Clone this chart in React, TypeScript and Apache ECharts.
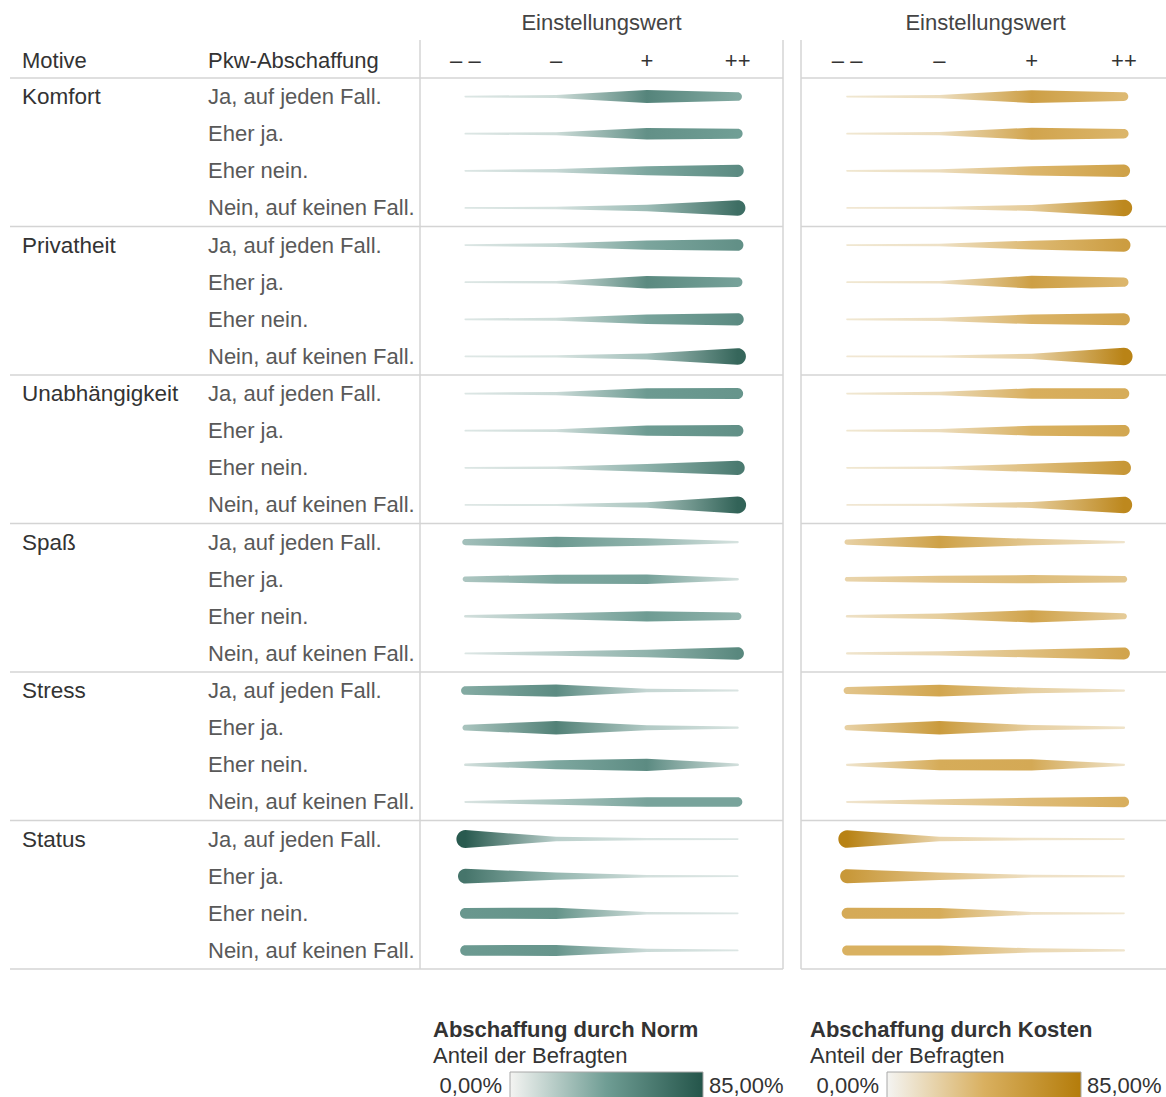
import React, { useEffect, useRef } from 'react';
import * as echarts from 'echarts';

// Categories
const motives = ['Komfort', 'Privatheit', 'Unabhängigkeit', 'Spaß', 'Stress', 'Status'];
const answers = ['Ja, auf jeden Fall.', 'Eher ja.', 'Eher nein.', 'Nein, auf keinen Fall.'];
const attitudeLabels = ['– –', '–', '+', '++'];

// Anteil der Befragten (%) je Einstellungswert (– –, –, +, ++), je Antwort auf die Pkw-Abschaffung
// Abschaffung durch Norm
const normKomfort = [[1, 7, 57, 35], [1, 7, 50, 42], [1, 9, 37, 53], [1, 4, 25, 70]];
const normPrivatheit = [[1, 11, 38, 50], [1, 5, 54, 40], [1, 7, 39, 53], [0.5, 3, 22, 75]];
const normUnabhaengigkeit = [[1, 8, 44, 47], [1, 6, 43, 50], [1, 5, 31, 63], [0.5, 2.5, 20, 77]];
const normSpass = [[23, 45, 29, 3], [19, 37, 40, 4], [5, 22, 43, 30], [1, 14, 30, 55]];
const normStress = [[35, 53, 10, 2], [21, 59, 17, 3], [5, 37, 53, 5], [2, 20, 39, 39]];
const normStatus = [[82, 14, 3, 1], [66, 28, 5, 1], [46, 48, 5, 1], [44, 47, 8, 1]];

// Abschaffung durch Kosten
const kostenKomfort = [[1, 8, 56, 36], [1, 8, 52, 39], [1, 8, 38, 54], [0.5, 3, 22, 75]];
const kostenPrivatheit = [[1, 5, 36, 58], [1, 5, 56, 38], [1, 8, 40, 52], [0.5, 2.5, 18, 79]];
const kostenUnabhaengigkeit = [[1, 10, 44, 46], [1, 8, 42, 50], [1, 5, 32, 63], [0.5, 3, 22, 75]];
const kostenSpass = [[18, 55, 24, 3], [15, 27, 33, 25], [5, 20, 53, 22], [3, 13, 32, 52]];
const kostenStress = [[27, 51, 19, 3], [18, 60, 18, 4], [3, 46, 48, 3], [2, 20, 34, 44]];
const kostenStatus = [[80, 15, 4, 1], [62, 30, 6, 2], [47, 46, 6, 1], [42, 42, 13, 3]];

const normGroups = [normKomfort, normPrivatheit, normUnabhaengigkeit, normSpass, normStress, normStatus];
const kostenGroups = [kostenKomfort, kostenPrivatheit, kostenUnabhaengigkeit, kostenSpass, kostenStress, kostenStatus];

// Colour scale range (%)
const SCALE_MAX = 85;
const normColors = ['#dfe8e6', '#6f9d94', '#24554a'];
const kostenColors = ['#f1e8d4', '#d9b060', '#b47c0a'];

// Stroke width mapping
const MIN_W = 1.6;
const W_PER_PCT = 0.2;

const FONT = '"Liberation Sans", Arial, Helvetica, sans-serif';
const FS = 22;

// Layout
const TOP = 78;
const BOTTOM = 969;
const NORM_LEFT = 420;
const NORM_RIGHT = 783;
const KOSTEN_LEFT = 801;
const KOSTEN_RIGHT = 1170;
const LINE_COLOR = '#d4d4d4';

const rowKeys: string[] = [];
motives.forEach((m) => answers.forEach((a) => rowKeys.push(`${m} | ${a}`)));

const toRows = (groups: number[][][]) => {
  const out: number[][] = [];
  groups.forEach((g) => g.forEach((vals) => out.push([out.length, ...vals])));
  return out;
};

const hexToRgb = (h: string) => {
  const n = parseInt(h.slice(1), 16);
  return [(n >> 16) & 255, (n >> 8) & 255, n & 255];
};

const colorAt = (stops: string[], v: number) => {
  const t = Math.max(0, Math.min(1, v / SCALE_MAX)) * (stops.length - 1);
  const i = Math.min(stops.length - 2, Math.floor(t));
  const f = t - i;
  const a = hexToRgb(stops[i]);
  const b = hexToRgb(stops[i + 1]);
  const c = a.map((x, k) => Math.round(x + (b[k] - x) * f));
  return `rgb(${c[0]},${c[1]},${c[2]})`;
};

const pct = (v: number) => `${v.toFixed(2).replace('.', ',')}%`;

const makeRenderItem = (colors: string[]) => (params: any, api: any) => {
  const row = api.value(0);
  const vals = [api.value(1), api.value(2), api.value(3), api.value(4)];
  const centers = vals.map((_, i) => api.coord([i, row]));
  const half = vals.map((v) => (MIN_W + v * W_PER_PCT) / 2);
  const y = centers[0][1];
  const pts: number[][] = [];
  const steps = 14;
  for (let i = 0; i < 4; i++) pts.push([centers[i][0], y - half[i]]);
  for (let s = 1; s < steps; s++) {
    const a = -Math.PI / 2 + (Math.PI * s) / steps;
    pts.push([centers[3][0] + half[3] * Math.cos(a), y + half[3] * Math.sin(a)]);
  }
  for (let i = 3; i >= 0; i--) pts.push([centers[i][0], y + half[i]]);
  for (let s = 1; s < steps; s++) {
    const a = Math.PI / 2 + (Math.PI * s) / steps;
    pts.push([centers[0][0] + half[0] * Math.cos(a), y + half[0] * Math.sin(a)]);
  }
  const xmin = centers[0][0] - half[0];
  const xmax = centers[3][0] + half[3];
  const stops = vals.map((v, i) => ({
    offset: (centers[i][0] - xmin) / (xmax - xmin),
    color: colorAt(colors, v),
  }));
  return {
    type: 'polygon',
    shape: { points: pts },
    style: { fill: new echarts.graphic.LinearGradient(0, 0, 1, 0, stops) },
  };
};

const text = (t: string, x: number, y: number, opts: any = {}) => ({
  type: 'text',
  x,
  y,
  silent: true,
  style: {
    text: t,
    fontSize: opts.fontSize ?? FS,
    fontFamily: FONT,
    fontWeight: opts.fontWeight ?? 'normal',
    fill: opts.fill ?? '#333',
    align: opts.align ?? 'left',
    verticalAlign: 'middle',
    textAlign: opts.align ?? 'left',
    textVerticalAlign: 'middle',
  },
});

const hLine = (x1: number, x2: number, y: number) => ({
  type: 'line',
  silent: true,
  shape: { x1, y1: y, x2, y2: y },
  style: { stroke: LINE_COLOR, lineWidth: 1.5 },
});

const vLine = (x: number, y1: number, y2: number) => ({
  type: 'line',
  silent: true,
  shape: { x1: x, y1, x2: x, y2 },
  style: { stroke: LINE_COLOR, lineWidth: 1.5 },
});

const legendBlock = (title: string, x: number, barX: number, barW: number, colors: string[]) => [
  text(title, x, 1029, { fontWeight: 'bold', fill: '#333' }),
  text('Anteil der Befragten', x, 1055, { fill: '#333' }),
  text(pct(0), barX - 8, 1085, { align: 'right', fill: '#333' }),
  {
    type: 'rect',
    silent: true,
    shape: { x: barX, y: 1072, width: barW, height: 27 },
    style: {
      fill: new echarts.graphic.LinearGradient(0, 0, 1, 0, [
        { offset: 0, color: '#f4f4f2' },
        { offset: 0.5, color: colors[1] },
        { offset: 1, color: colors[2] },
      ]),
      stroke: '#a8a8a8',
      lineWidth: 1,
    },
  },
  text(pct(SCALE_MAX), barX + barW + 6, 1085, { fill: '#333' }),
];

const xAxisFor = (gridIndex: number) => ({
  type: 'category',
  gridIndex,
  data: attitudeLabels,
  position: 'top',
  boundaryGap: true,
  axisLine: { show: false },
  axisTick: { show: false },
  splitLine: { show: false },
  axisLabel: {
    margin: 18,
    verticalAlign: 'middle',
    fontSize: FS,
    color: '#333',
    fontFamily: FONT,
  },
  name: 'Einstellungswert',
  nameLocation: 'middle',
  nameGap: 56,
  nameTextStyle: { fontSize: FS, color: '#444', fontFamily: FONT, verticalAlign: 'middle' },
});

const yAxisBase = (gridIndex: number) => ({
  type: 'category',
  gridIndex,
  position: 'left',
  offset: 0,
  data: rowKeys,
  inverse: true,
  axisLine: { show: false },
  axisTick: { show: false },
  splitLine: { show: false },
});

export default function App() {
  const ref = useRef<HTMLDivElement>(null);

  useEffect(() => {
    if (!ref.current) return;
    const chart = echarts.init(ref.current, undefined, { renderer: 'svg' });

    const groupLines: any[] = [];
    const rowH = (BOTTOM - TOP) / rowKeys.length;
    for (let k = 0; k <= motives.length; k++) {
      const y = TOP + k * answers.length * rowH;
      groupLines.push(hLine(10, NORM_RIGHT, y));
      groupLines.push(hLine(KOSTEN_LEFT, 1166, y));
    }

    chart.setOption({
      animation: false,
      backgroundColor: '#ffffff',
      textStyle: { fontFamily: FONT },
      grid: [
        {
          left: NORM_LEFT,
          top: TOP,
          width: NORM_RIGHT - NORM_LEFT,
          height: BOTTOM - TOP,
          outerBoundsMode: 'none',
          containLabel: false,
        },
        {
          left: KOSTEN_LEFT,
          top: TOP,
          width: KOSTEN_RIGHT - KOSTEN_LEFT,
          height: BOTTOM - TOP,
          outerBoundsMode: 'none',
          containLabel: false,
        },
      ],
      xAxis: [xAxisFor(0), xAxisFor(1)],
      yAxis: [
        {
          ...yAxisBase(0),
          axisLabel: {
            interval: 0,
            align: 'left',
            margin: NORM_LEFT - 208,
            fontSize: FS,
            color: '#595959',
            fontFamily: FONT,
            formatter: (_: string, idx: number) => answers[idx % answers.length],
          },
        },
        {
          ...yAxisBase(0),
          axisLabel: {
            interval: 0,
            align: 'left',
            margin: NORM_LEFT - 22,
            fontSize: 22.5,
            color: '#333',
            fontFamily: FONT,
            formatter: (_: string, idx: number) =>
              idx % answers.length === 0 ? motives[idx / answers.length] : '',
          },
        },
        { ...yAxisBase(1), axisLabel: { show: false } },
      ],
      series: [
        {
          type: 'custom',
          name: 'Abschaffung durch Norm',
          xAxisIndex: 0,
          yAxisIndex: 0,
          renderItem: makeRenderItem(normColors),
          data: toRows(normGroups),
        },
        {
          type: 'custom',
          name: 'Abschaffung durch Kosten',
          xAxisIndex: 1,
          yAxisIndex: 2,
          renderItem: makeRenderItem(kostenColors),
          data: toRows(kostenGroups),
        },
      ],
      graphic: [
        ...groupLines,
        vLine(NORM_LEFT, 40, BOTTOM),
        vLine(NORM_RIGHT, 40, BOTTOM),
        vLine(KOSTEN_LEFT, 40, BOTTOM),
        text('Motive', 22, 60),
        text('Pkw-Abschaffung', 208, 60),
        ...legendBlock('Abschaffung durch Norm', 433, 510, 193, normColors),
        ...legendBlock('Abschaffung durch Kosten', 810, 887, 194, kostenColors),
      ],
    });

    return () => chart.dispose();
  }, []);

  return (
    <div
      ref={ref}
      style={{ position: 'absolute', left: 0, top: 0, width: 1166, height: 1097 }}
    />
  );
}
